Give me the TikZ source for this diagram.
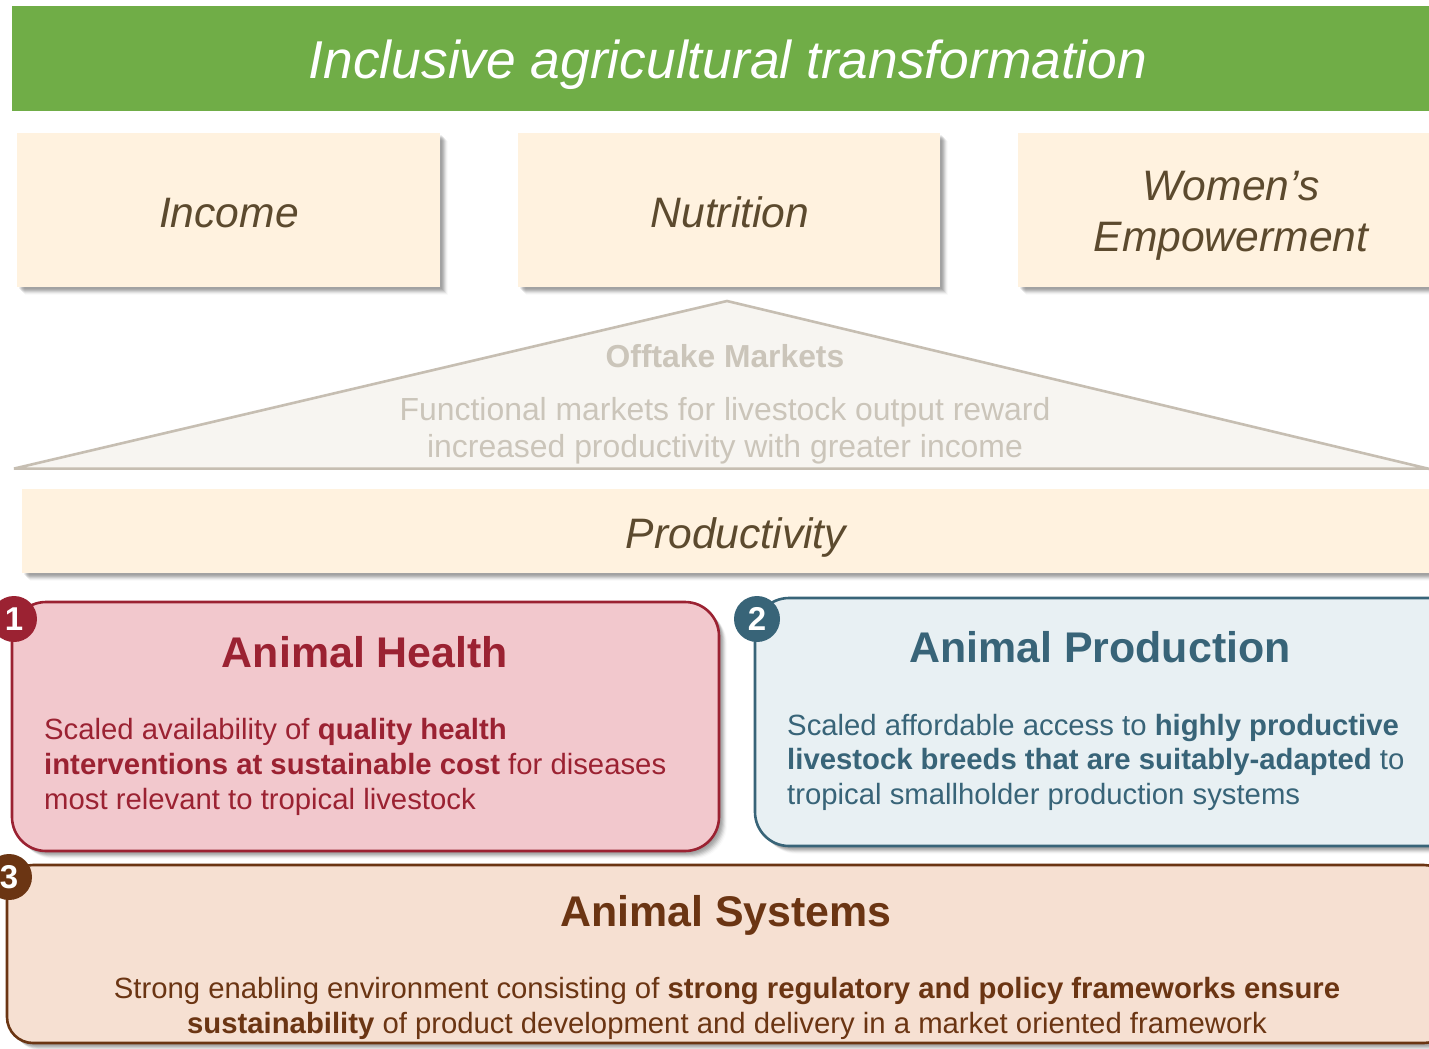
\documentclass[tikz,border=0pt]{standalone}
\usepackage{fontspec}
\setmainfont{Liberation Sans}
\usetikzlibrary{shadows}
\definecolor{green1}{HTML}{70AD47}
\definecolor{cream}{HTML}{FFF2DF}
\definecolor{creamtxt}{HTML}{5C4A2E}
\definecolor{tri}{HTML}{F7F5F1}
\definecolor{triline}{HTML}{C6BEB2}
\definecolor{tritxt}{HTML}{CBC5BA}
\definecolor{redfill}{HTML}{F2C8CD}
\definecolor{redc}{HTML}{9B2232}
\definecolor{bluefill}{HTML}{E8F0F3}
\definecolor{bluec}{HTML}{386478}
\definecolor{brownfill}{HTML}{F6E0D2}
\definecolor{brownc}{HTML}{6B3513}
\tikzset{
  softshadow/.style={
    general shadow={shadow xshift=8pt,shadow yshift=-8pt,fill=black,fill opacity=.02},
    general shadow={shadow xshift=7pt,shadow yshift=-7pt,fill=black,fill opacity=.04},
    general shadow={shadow xshift=6pt,shadow yshift=-6pt,fill=black,fill opacity=.06},
    general shadow={shadow xshift=5pt,shadow yshift=-5pt,fill=black,fill opacity=.08},
    general shadow={shadow xshift=4pt,shadow yshift=-4pt,fill=black,fill opacity=.09},
    general shadow={shadow xshift=3pt,shadow yshift=-3pt,fill=black,fill opacity=.08},
    general shadow={shadow xshift=2pt,shadow yshift=-2pt,fill=black,fill opacity=.06}},
  creambox/.style={fill=cream,draw=none,softshadow},
  creamtext/.style={text=creamtxt,anchor=base,inner sep=0pt,align=center,font=\fontsize{42.6}{51}\selectfont\itshape},
  panel/.style={rounded corners=#1,line width=2.6pt,softshadow},
  badge/.style={circle,minimum size=46pt,inner sep=0pt,text=white,font=\fontsize{33}{33}\selectfont\bfseries},
  head/.style={anchor=base,font=\fontsize{42.9}{43}\selectfont\bfseries},
  body/.style={anchor=north west,inner sep=0pt,align=left,font=\fontsize{29.3}{35}\selectfont},
  bodyc/.style={anchor=north,inner sep=0pt,align=center,font=\fontsize{29.3}{35}\selectfont},
}
\begin{document}
\begin{tikzpicture}[x=1pt,y=-1pt]
\clip (0,0) rectangle (1429,1049);
\fill[white] (0,0) rectangle (1429,1049);
% banner
\path[fill=green1] (12,6) rectangle (1445,111);
\node[anchor=base,text=white,font=\fontsize{53.3}{53}\selectfont\itshape] (banner) at (728,78) {Inclusive agricultural transformation};
% top boxes
\path[creambox] (17,133) rectangle (440,287);
\node[creamtext] (income) at (229,227) {Income};
\path[creambox] (518,133) rectangle (940,287);
\node[creamtext] (nutrition) at (730,227) {Nutrition};
\path[creambox] (1018,133) rectangle (1445,287);
\node[creamtext,anchor=center] (women) at (1231,216) {Women’s\\Empowerment};
% triangle
\draw[fill=tri,draw=triline,line width=2.6pt,line join=bevel] (14,468.6) -- (727,301) -- (1440,471.5) -- (1440,468.6) -- cycle;
\node[anchor=base,text=tritxt,font=\fontsize{31.8}{32}\selectfont\bfseries] (offtake) at (725,367) {Offtake Markets};
\node[bodyc,text=tritxt,font=\fontsize{31.9}{37}\selectfont] (offtext) at (725,397) {Functional markets for livestock output reward\\increased productivity with greater income};
% productivity
\path[creambox] (22,489) rectangle (1445,573);
\node[creamtext] (prod) at (736,548) {Productivity};
% animal health
\path[panel=34pt,fill=redfill,draw=redc] (12,602) rectangle (719,851);
\node[head,text=redc] (ahh) at (365,667) {Animal Health};
\node[body,text=redc] (aht) at (44,718) {Scaled availability of \textbf{quality health}\\\textbf{interventions at sustainable cost} for diseases\\most relevant to tropical livestock};
\node[badge,fill=redc] (b1) at (14,619) {1};
% animal production
\path[panel=34pt,fill=bluefill,draw=bluec] (755,598) rectangle (1465,846);
\node[head,text=bluec] (aph) at (1100,662) {Animal Production};
\node[body,text=bluec,font=\fontsize{29.3}{34.5}\selectfont] (apt) at (787,714) {Scaled affordable access to \textbf{highly productive}\\\textbf{livestock breeds that are suitably-adapted} to\\tropical smallholder production systems};
\node[badge,fill=bluec] (b2) at (757,619) {2};
% animal systems
\path[panel=26pt,fill=brownfill,draw=brownc] (7,865) rectangle (1450,1043);
\node[head,text=brownc] (ash) at (726,926) {Animal Systems};
\node[bodyc,text=brownc] (ast) at (727,977) {Strong enabling environment consisting of \textbf{strong regulatory and policy frameworks ensure}\\\textbf{sustainability} of product development and delivery in a market oriented framework};
\node[badge,fill=brownc] (b3) at (9,877) {3};
\end{tikzpicture}
\end{document}
